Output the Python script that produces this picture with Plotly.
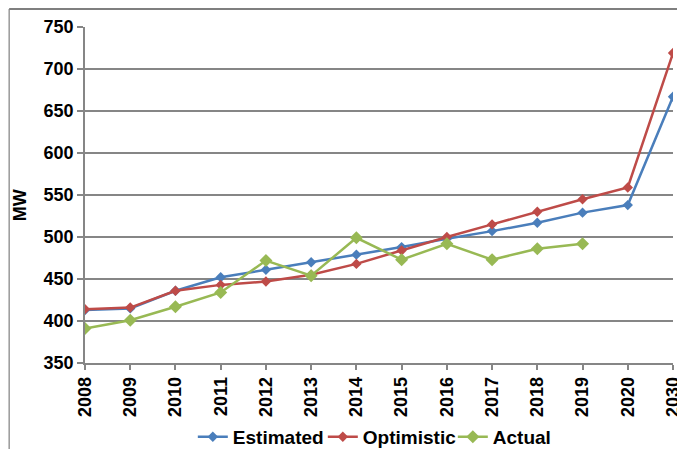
import plotly.graph_objects as go

years = ["2008", "2009", "2010", "2011", "2012", "2013", "2014", "2015",
         "2016", "2017", "2018", "2019", "2020", "2030"]
estimated = [413, 415, 436, 452, 461, 470, 479, 488, 498, 507, 517, 529, 538, 667]
optimistic = [414, 416, 436, 443, 447, 455, 468, 484, 500, 515, 530, 545, 559, 719]
actual_years = years[:12]
actual = [391, 401, 417, 434, 472, 454, 499, 473, 492, 473, 486, 492]

FONT = "Liberation Sans, Arial, sans-serif"

fig = go.Figure()
fig.add_trace(go.Scatter(x=years, y=estimated, name="Estimated", mode="lines+markers",
                         line=dict(color="#4A7EBB", width=2.5),
                         marker=dict(symbol="diamond", size=8, color="#4A7EBB")))
fig.add_trace(go.Scatter(x=years, y=optimistic, name="Optimistic", mode="lines+markers",
                         line=dict(color="#BE4B48", width=2.5),
                         marker=dict(symbol="diamond", size=8, color="#BE4B48")))
fig.add_trace(go.Scatter(x=actual_years, y=actual, name="Actual", mode="lines+markers",
                         line=dict(color="#98B954", width=2.5),
                         marker=dict(symbol="diamond", size=10, color="#98B954")))

# the page body has an 8px margin, so the figure is laid out 8px up/left
fig.update_layout(
    template="none",
    width=685, height=449,
    margin=dict(l=77, r=20, t=19, b=94, autoexpand=False),
    paper_bgcolor="white", plot_bgcolor="white",
    font=dict(family=FONT, size=18, color="black"),
    showlegend=True,
    legend=dict(orientation="h", x=0.515, xanchor="center", y=-0.22, yanchor="middle",
                font=dict(family=FONT, size=19, color="black", weight="bold"),
                itemwidth=30, tracegroupgap=0, bgcolor="rgba(0,0,0,0)",
                entrywidth=85, entrywidthmode="pixels"),
    xaxis=dict(type="category", categoryorder="array", categoryarray=years,
               range=[0, 13], showgrid=False, showline=True, linecolor="#868686",
               linewidth=1.5, ticks="outside", ticklen=5, tickcolor="#868686",
               tickwidth=1.5, tickangle=-90, automargin=False,
               tickfont=dict(family=FONT, size=18, color="black", weight="bold")),
    yaxis=dict(range=[350, 750], dtick=50, showgrid=True, gridcolor="#868686",
               gridwidth=1.5, showline=True, linecolor="#868686", linewidth=1.5,
               ticks="outside", ticklen=6, tickcolor="#868686", tickwidth=1.5,
               zeroline=False, automargin=False,
               tickfont=dict(family=FONT, size=18, color="black", weight="bold")),
    annotations=[dict(text="<b>MW</b>", xref="paper", yref="paper", x=-0.109, y=0.469,
                      xanchor="center", yanchor="middle",
                      textangle=-90, showarrow=False,
                      font=dict(family=FONT, size=18, color="black"))],
    shapes=[
        dict(type="line", xref="paper", yref="paper", x0=-0.129, x1=1.1, y0=1.0536, y1=1.0536,
             line=dict(color="black", width=1.2)),
        dict(type="line", xref="paper", yref="paper", x0=-0.129, x1=-0.129, y0=1.0536, y1=-0.4,
             line=dict(color="#7f7f7f", width=1.2)),
    ],
)

fig.write_html("out.html")
